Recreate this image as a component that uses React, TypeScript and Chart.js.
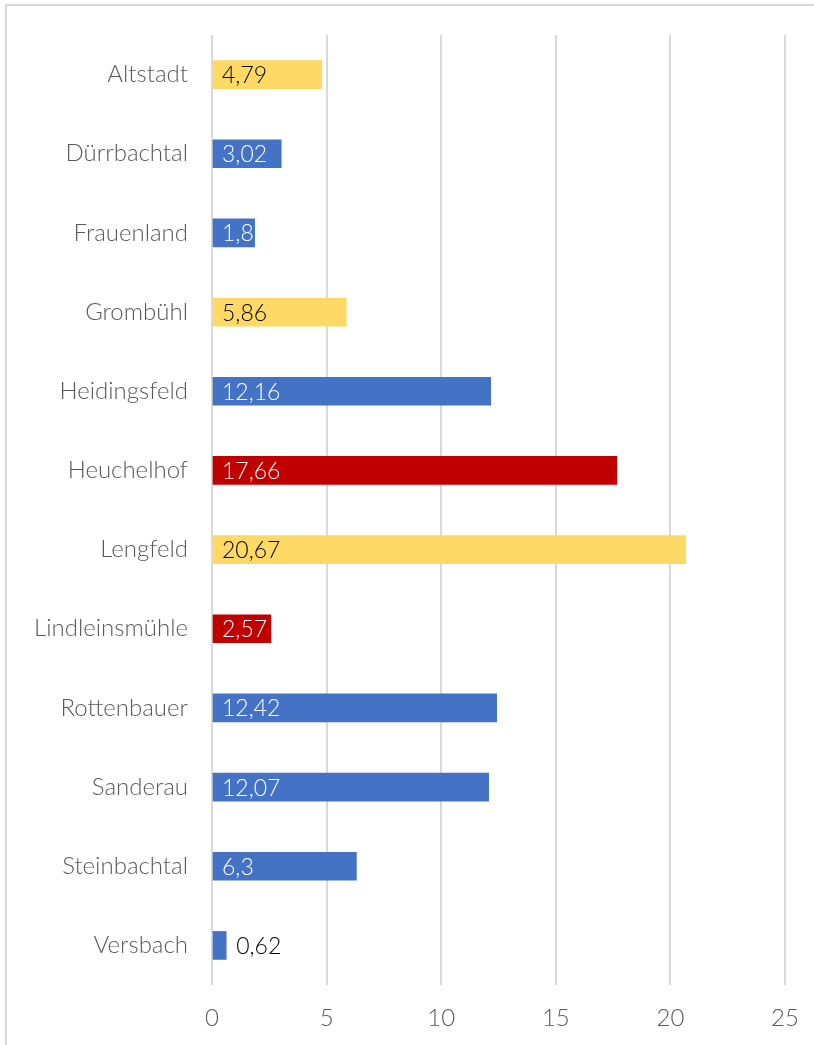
import React, { useEffect, useRef } from "react";
import { Chart, registerables } from "chart.js";

Chart.register(...registerables);

const categories = [
  "Altstadt",
  "Dürrbachtal",
  "Frauenland",
  "Grombühl",
  "Heidingsfeld",
  "Heuchelhof",
  "Lengfeld",
  "Lindleinsmühle",
  "Rottenbauer",
  "Sanderau",
  "Steinbachtal",
  "Versbach",
];
const values = [4.79, 3.02, 1.86, 5.86, 12.16, 17.66, 20.67, 2.57, 12.42, 12.07, 6.3, 0.62];
const groups = ["gelb", "blau", "blau", "gelb", "blau", "rot", "gelb", "rot", "blau", "blau", "blau", "blau"];
const xTicks = [0, 5, 10, 15, 20, 25];

const groupColor: Record<string, string> = { gelb: "#FFD966", blau: "#4472C4", rot: "#C00000" };
const groupText: Record<string, string> = { gelb: "#000000", blau: "#FFFFFF", rot: "#FFFFFF" };

const FONT = "Lato, 'Open Sans', sans-serif";

const framePlugin = {
  id: "frame",
  beforeDraw(chart: any) {
    const ctx = chart.ctx;
    ctx.save();
    ctx.strokeStyle = "#D9D9D9";
    ctx.lineWidth = 2;
    ctx.beginPath();
    ctx.moveTo(6, chart.height);
    ctx.lineTo(6, 5);
    ctx.lineTo(chart.width, 5);
    ctx.stroke();
    ctx.restore();
  },
};

const labelPlugin = {
  id: "valueLabels",
  afterDatasetsDraw(chart: any) {
    const ctx = chart.ctx;
    const meta = chart.getDatasetMeta(0);
    ctx.save();
    ctx.font = `300 23px ${FONT}`;
    ctx.textBaseline = "middle";
    ctx.textAlign = "left";
    meta.data.forEach((bar: any, i: number) => {
      const text = String(values[i]).replace(".", ",");
      const left = bar.base;
      const right = bar.x;
      const top = bar.y - bar.height / 2;
      const w = right - left;
      if (w < 20) {
        ctx.fillStyle = "#000000";
        ctx.fillText(text, right + 10, bar.y + 1);
      } else {
        ctx.save();
        ctx.beginPath();
        ctx.rect(left, top, w, bar.height);
        ctx.clip();
        ctx.fillStyle = groupText[groups[i]];
        ctx.fillText(text, left + 9, bar.y + 1);
        ctx.restore();
      }
    });
    ctx.restore();
  },
};

export default function App() {
  const ref = useRef<HTMLCanvasElement | null>(null);
  useEffect(() => {
    if (!ref.current) return;
    const chart = new Chart(ref.current, {
      type: "bar",
      data: {
        labels: categories,
        datasets: [
          {
            data: values,
            backgroundColor: groups.map((g) => groupColor[g]),
            barThickness: 28,
            borderWidth: 0,
          },
        ],
      },
      options: {
        indexAxis: "y",
        animation: false,
        responsive: false,
        maintainAspectRatio: false,
        layout: { padding: { top: 35, right: 29, left: 0, bottom: 0 } },
        plugins: { legend: { display: false }, tooltip: { enabled: false } },
        scales: {
          x: {
            min: 0,
            max: 25,
            afterBuildTicks: (axis: any) => {
              axis.ticks = xTicks.map((v) => ({ value: v }));
            },
            afterFit: (axis: any) => {
              axis.height = 60;
              axis.paddingLeft = 0;
              axis.paddingRight = 0;
            },
            grid: { color: "#D9D9D9", lineWidth: 2, drawTicks: false },
            border: { display: false },
            ticks: {
              padding: 19,
              color: "#595959",
              font: { family: FONT, size: 24, weight: "300" },
            },
          },
          y: {
            afterFit: (axis: any) => {
              axis.width = 212;
              axis.paddingTop = 0;
              axis.paddingBottom = 0;
            },
            grid: { display: false, drawTicks: false },
            border: { display: false },
            ticks: {
              padding: 24,
              color: "#595959",
              font: { family: FONT, size: 24, weight: "300" },
            },
          },
        },
      },
      plugins: [framePlugin, labelPlugin],
    });
    return () => chart.destroy();
  }, []);
  return (
    <div style={{ position: "absolute", left: 0, top: 0, width: 814, height: 1045 }}>
      <canvas ref={ref} width={814} height={1045} style={{ display: "block" }} />
    </div>
  );
}
